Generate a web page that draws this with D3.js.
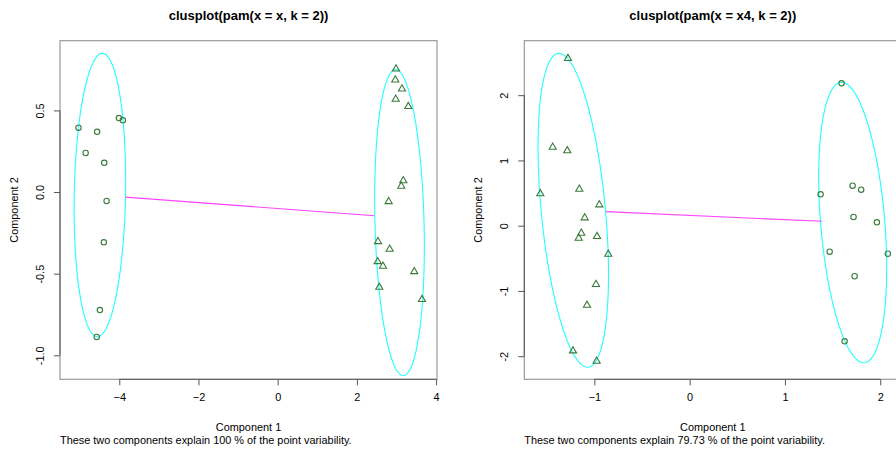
<!DOCTYPE html>
<html><head><meta charset="utf-8">
<script src="https://cdn.jsdelivr.net/npm/d3@7"></script>
<style>
html,body{margin:0;padding:0;background:#fff;}
svg text{font-family:"Liberation Sans",Arial,Helvetica,sans-serif;fill:#000;}
</style></head>
<body><svg id="c" width="896" height="450"></svg>
<script>
// ---------- Panel 1: clusplot(pam(x = x, k = 2)) ----------
const title1 = "clusplot(pam(x = x, k = 2))";
const sub1 = "These two components explain 100 % of the point variability.";
const xDomain1 = [-5.497, 4.023];
const yDomain1 = [-1.147, 0.927];
const xTicks1 = [-4, -2, 0, 2, 4];
const yTicks1 = [-1.0, -0.5, 0.0, 0.5];
const yTickLabels1 = ["-1.0", "-0.5", "0.0", "0.5"];
// cluster 1 (circles)
const p1c1x = [-5.03, -4.56, -4.85, -4.01, -3.91, -4.38, -4.32, -4.39, -4.49, -4.57];
const p1c1y = [0.394, 0.369, 0.239, 0.453, 0.439, 0.179, -0.055, -0.308, -0.723, -0.888];
// cluster 2 (triangles)
const p1c2x = [2.987, 2.970, 3.139, 2.980, 3.298, 3.172, 3.121, 2.803, 2.533, 2.828, 2.525, 2.659, 3.449, 2.566, 3.644];
const p1c2y = [0.757, 0.690, 0.635, 0.572, 0.527, 0.073, 0.039, -0.055, -0.300, -0.347, -0.423, -0.451, -0.484, -0.580, -0.655];
// ellipses: centre, conjugate semi-axis u, v (data units)
const p1e1 = {c: [-4.49, -0.018], u: [0.063, 0.868], v: [0.648, 0]};
const p1e2 = {c: [3.076, -0.187], u: [-0.096, 0.938], v: [0.620, 0]};
const p1lineX = [-3.848, 2.44];
const p1lineY = [-0.031, -0.145];

// ---------- Panel 2: clusplot(pam(x = x4, k = 2)) ----------
const title2 = "clusplot(pam(x = x4, k = 2))";
const sub2 = "These two components explain 79.73 % of the point variability.";
const xDomain2 = [-1.735, 2.221];
const yDomain2 = [-2.354, 2.835];
const xTicks2 = [-1, 0, 1, 2];
const yTicks2 = [-2, -1, 0, 1, 2];
const yTickLabels2 = ["-2", "-1", "0", "1", "2"];
// cluster 1 (triangles)
const p2c1x = [-1.277, -1.437, -1.284, -1.567, -1.158, -0.948, -1.101, -1.137, -1.164, -0.972, -0.854, -0.983, -1.077, -1.224, -0.976];
const p2c1y = [2.570, 1.211, 1.156, 0.497, 0.567, 0.328, 0.129, -0.107, -0.184, -0.158, -0.429, -0.893, -1.211, -1.910, -2.069];
// cluster 2 (circles)
const p2c2x = [1.594, 1.710, 1.800, 1.374, 1.720, 1.965, 1.469, 2.080, 1.731, 1.626];
const p2c2y = [2.182, 0.613, 0.552, 0.481, 0.133, 0.052, -0.398, -0.429, -0.775, -1.772];
const p2e1 = {c: [-1.221, 0.236], u: [-0.150, 2.406], v: [0.338, 0]};
const p2e2 = {c: [1.711, 0.049], u: [-0.116, 2.149], v: [0.3375, 0]};
const p2lineX = [-0.878, 1.388];
const p2lineY = [0.215, 0.068];

const svg = d3.select("#c");
const PT = "#3a7a3a", ELL = "#22ffff", SEG = "#ff44ff";

function panel(cfg) {
  const x = d3.scaleLinear().domain(cfg.xDomain).range([cfg.left, cfg.left + 377]);
  const y = d3.scaleLinear().domain(cfg.yDomain).range([379.3, 40.7]);
  const g = svg.append("g");
  // box
  g.append("rect").attr("x", cfg.left).attr("y", 40.7).attr("width", 377).attr("height", 338.6)
    .attr("fill", "none").attr("stroke", "#9a9a9a").attr("stroke-width", 1.2);
  // axes
  const xa = g.append("g").attr("transform", "translate(0,379.3)")
    .call(d3.axisBottom(x).tickValues(cfg.xTicks).tickSize(6).tickPadding(8).tickFormat(d3.format("d")));
  const ya = g.append("g").attr("transform", `translate(${cfg.left},0)`)
    .call(d3.axisLeft(y).tickValues(cfg.yTicks).tickSize(6).tickFormat((d, i) => cfg.yTickLabels[i]));
  [xa, ya].forEach(a => {
    a.select(".domain").remove();
    a.selectAll("line").attr("stroke", "#555");
    a.selectAll("text").style("font-size", "10.9px").attr("fill", "#000");
  });
  // axis lines through tick range
  g.append("line").attr("x1", x(cfg.xTicks[0])).attr("x2", x(cfg.xTicks[cfg.xTicks.length - 1]))
    .attr("y1", 379.3).attr("y2", 379.3).attr("stroke", "#555");
  g.append("line").attr("y1", y(cfg.yTicks[0])).attr("y2", y(cfg.yTicks[cfg.yTicks.length - 1]))
    .attr("x1", cfg.left).attr("x2", cfg.left).attr("stroke", "#555");
  // rotate y tick labels
  ya.selectAll(".tick text").attr("x", null).attr("dy", null)
    .attr("text-anchor", "middle").attr("dominant-baseline", "central")
    .attr("transform", "translate(-20,0) rotate(-90)");
  xa.selectAll(".tick text").attr("dy", "0.71em");

  // ellipses
  const ts = d3.range(0, 361, 3).map(a => a * Math.PI / 180);
  const lineGen = d3.line().x(d => x(d[0])).y(d => y(d[1]));
  cfg.ellipses.forEach(e => {
    const pts = ts.map(t => [e.c[0] + e.u[0] * Math.cos(t) + e.v[0] * Math.sin(t),
                             e.c[1] + e.u[1] * Math.cos(t) + e.v[1] * Math.sin(t)]);
    g.append("path").attr("d", lineGen(pts)).attr("fill", "none")
      .attr("stroke", ELL).attr("stroke-width", 1.1);
  });
  // connecting segment
  g.append("path").attr("d", lineGen(cfg.segX.map((v, i) => [v, cfg.segY[i]])))
    .attr("fill", "none").attr("stroke", SEG).attr("stroke-width", 1.1);

  // points
  cfg.clusters.forEach(cl => {
    const data = cl.x.map((v, i) => [v, cl.y[i]]);
    if (cl.shape === "circle") {
      g.selectAll(null).data(data).enter().append("circle")
        .attr("cx", d => x(d[0])).attr("cy", d => y(d[1])).attr("r", 2.7)
        .attr("fill", "none").attr("stroke", PT).attr("stroke-width", 1.1);
    } else {
      const sym = d3.symbol(d3.symbolTriangle, 22);
      g.selectAll(null).data(data).enter().append("path")
        .attr("d", sym).attr("transform", d => `translate(${x(d[0])},${y(d[1]) + 0.5})`)
        .attr("fill", "none").attr("stroke", PT).attr("stroke-width", 1.1);
    }
  });

  // titles
  const cx = cfg.left + 377 / 2;
  svg.append("text").attr("x", cx).attr("y", 19.5).attr("text-anchor", "middle")
    .style("font-size", "13px").style("font-weight", "bold").text(cfg.title);
  svg.append("text").attr("x", cx).attr("y", 431).attr("text-anchor", "middle")
    .style("font-size", "10.9px").text("Component 1");
  svg.append("text").attr("x", cfg.left).attr("y", 444).attr("text-anchor", "start")
    .style("font-size", "10.9px").text(cfg.sub);
  svg.append("text").attr("transform", `translate(${cfg.left - 46},210) rotate(-90)`)
    .attr("text-anchor", "middle").attr("dominant-baseline", "central")
    .style("font-size", "10.9px").text("Component 2");
}

panel({left: 60, xDomain: xDomain1, yDomain: yDomain1, xTicks: xTicks1, yTicks: yTicks1,
  yTickLabels: yTickLabels1, title: title1, sub: sub1,
  ellipses: [p1e1, p1e2], segX: p1lineX, segY: p1lineY,
  clusters: [{x: p1c1x, y: p1c1y, shape: "circle"}, {x: p1c2x, y: p1c2y, shape: "triangle"}]});
panel({left: 524.3, xDomain: xDomain2, yDomain: yDomain2, xTicks: xTicks2, yTicks: yTicks2,
  yTickLabels: yTickLabels2, title: title2, sub: sub2,
  ellipses: [p2e1, p2e2], segX: p2lineX, segY: p2lineY,
  clusters: [{x: p2c1x, y: p2c1y, shape: "triangle"}, {x: p2c2x, y: p2c2y, shape: "circle"}]});
</script></body></html>
